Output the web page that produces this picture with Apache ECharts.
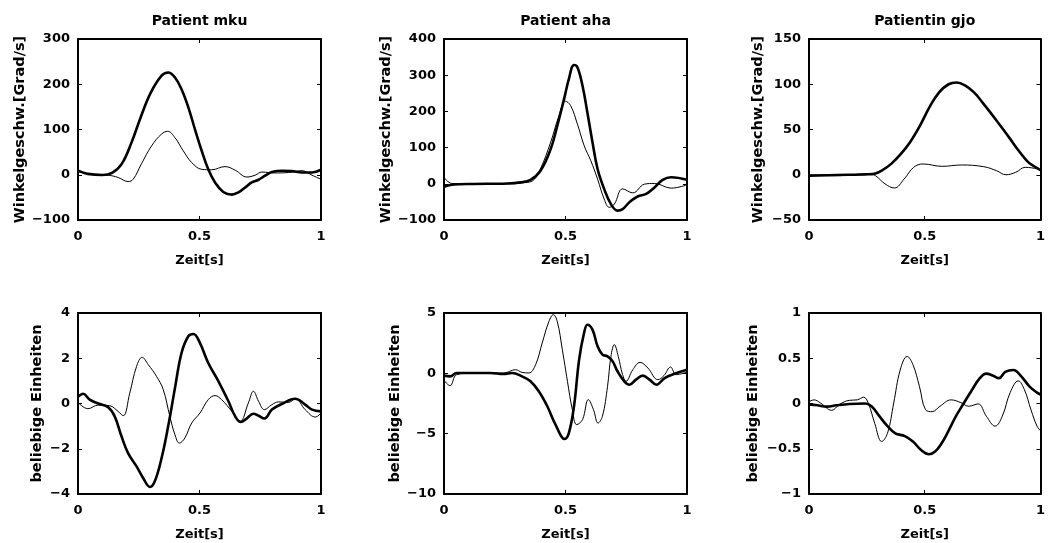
<!DOCTYPE html>
<html>
<head>
<meta charset="utf-8">
<script src="https://cdn.jsdelivr.net/npm/echarts@6/dist/echarts.min.js"></script>
<style>
  html, body { margin: 0; padding: 0; background: #fff; }
  #chart { width: 1048px; height: 543px; }
</style>
</head>
<body>
<div id="chart"></div>
<script>
// Titles and axis texts
const panelTitles = ['Patient mku', 'Patient aha', 'Patientin gjo'];
const xAxisName = 'Zeit[s]';
const velAxisName = 'Winkelgeschw.[Grad/s]';
const arbAxisName = 'beliebige Einheiten';

// Axis ranges [min, max, interval] for the six panels
const xRange = [0, 1, 0.5];
const velRanges = [[-100, 300, 100], [-100, 400, 100], [-50, 150, 50]];
const arbRanges = [[-4, 4, 2], [-10, 5, 5], [-1, 1, 0.5]];

// Angular velocity, [time s, deg/s]
const velMkuBold = [[0,9],[0.04,2],[0.1,-0.5],[0.14,4],[0.18,24],[0.22,71],[0.26,130],[0.30,182],[0.344,219],[0.371,226],[0.399,215],[0.426,189],[0.454,149],[0.481,101],[0.509,53],[0.536,12],[0.564,-17],[0.598,-38],[0.633,-44],[0.66,-39],[0.688,-28],[0.715,-17],[0.743,-11],[0.77,-2],[0.798,6],[0.84,9],[0.88,8],[0.922,5],[0.963,5],[1,11]];
const velMkuThin = [[0,7],[0.055,1],[0.124,-1],[0.165,-6],[0.206,-15],[0.227,-10],[0.261,24],[0.303,64],[0.344,90],[0.369,96],[0.399,82],[0.433,53],[0.468,27],[0.509,12],[0.55,11],[0.605,18],[0.647,10],[0.695,-5],[0.729,-1],[0.757,6],[0.81,4],[0.867,5],[0.922,9],[0.963,-1],[1,-10]];
const velAhaBold = [[0,-8],[0.039,-2],[0.121,-0.5],[0.26,1],[0.314,4],[0.356,11],[0.397,36],[0.439,96],[0.466,160],[0.494,234],[0.514,290],[0.535,328],[0.549,322],[0.57,271],[0.59,197],[0.611,115],[0.632,41],[0.659,-14],[0.687,-56],[0.714,-74],[0.735,-70],[0.763,-51],[0.797,-35],[0.832,-28],[0.866,-10],[0.9,11],[0.935,18],[1,11]];
const velAhaThin = [[0,18],[0.032,1],[0.121,-0.5],[0.26,0],[0.342,4],[0.37,11],[0.397,41],[0.439,115],[0.473,188],[0.5,228],[0.521,216],[0.549,165],[0.577,105],[0.604,64],[0.632,13],[0.659,-42],[0.68,-65],[0.701,-56],[0.735,-14],[0.777,-25],[0.825,-1],[0.866,1],[0.935,-12],[1,-3]];
const velGjoBold = [[0,-1],[0.121,-0.3],[0.259,0.5],[0.287,1.5],[0.314,4.5],[0.355,12],[0.397,23],[0.438,36.5],[0.479,54],[0.52,74.5],[0.562,91],[0.603,100],[0.638,102],[0.672,99],[0.713,91],[0.755,78],[0.81,60],[0.865,41],[0.906,26.6],[0.948,13.7],[0.988,7],[1,5]];
const velGjoThin = [[0,-0.3],[0.121,-1],[0.259,1.2],[0.287,-1],[0.328,-10],[0.369,-14.6],[0.411,-4.7],[0.452,8.2],[0.493,11.9],[0.576,9.3],[0.658,10.8],[0.755,8.9],[0.81,4.5],[0.851,0],[0.893,2.7],[0.934,8.2],[0.988,6.4],[1,5]];

// Arbitrary-unit signals, [time s, value]
const arbMkuBold = [[0,0.29],[0.021,0.43],[0.048,0.17],[0.083,0],[0.124,-0.17],[0.151,-0.57],[0.179,-1.45],[0.206,-2.19],[0.241,-2.78],[0.268,-3.29],[0.296,-3.69],[0.316,-3.44],[0.344,-2.41],[0.371,-1.01],[0.399,0.68],[0.426,2.23],[0.454,2.97],[0.475,3.07],[0.502,2.67],[0.536,1.79],[0.578,0.98],[0.619,0.1],[0.647,-0.57],[0.67,-0.82],[0.694,-0.67],[0.722,-0.45],[0.743,-0.54],[0.767,-0.66],[0.798,-0.27],[0.839,-0.02],[0.894,0.21],[0.935,-0.05],[0.963,-0.27],[1,-0.35]];
const arbMkuThin = [[0,0.05],[0.041,-0.23],[0.083,-0.07],[0.131,-0.1],[0.165,-0.35],[0.186,-0.54],[0.213,0.46],[0.241,1.64],[0.264,2.04],[0.289,1.72],[0.323,1.2],[0.351,0.61],[0.378,-0.57],[0.399,-1.38],[0.417,-1.75],[0.44,-1.52],[0.468,-0.86],[0.502,-0.42],[0.536,0.17],[0.564,0.35],[0.591,0.17],[0.633,-0.35],[0.667,-0.79],[0.701,0.02],[0.722,0.54],[0.743,0.1],[0.767,-0.27],[0.798,-0.05],[0.825,0.07],[0.867,0.05],[0.894,0.21],[0.935,-0.27],[0.977,-0.6],[1,-0.42]];
const arbAhaBold = [[0,-0.19],[0.025,-0.25],[0.052,0.03],[0.121,0.03],[0.19,0.03],[0.246,-0.06],[0.28,0.03],[0.321,-0.25],[0.356,-0.66],[0.39,-1.49],[0.425,-2.73],[0.459,-4.25],[0.497,-5.44],[0.514,-4.94],[0.535,-2.73],[0.556,1.13],[0.577,3.4],[0.59,4.03],[0.611,3.62],[0.632,2.24],[0.652,1.55],[0.673,1.41],[0.694,0.99],[0.714,0.17],[0.742,-0.66],[0.763,-0.94],[0.79,-0.52],[0.818,-0.19],[0.846,-0.52],[0.874,-0.94],[0.908,-0.39],[0.949,-0.03],[1,0.3]];
const arbAhaThin = [[0,-0.58],[0.025,-1.02],[0.052,-0.11],[0.121,0.03],[0.246,0.03],[0.294,0.3],[0.321,0.08],[0.349,0.03],[0.377,0.72],[0.404,2.51],[0.432,4.31],[0.45,4.86],[0.466,4.31],[0.487,1.96],[0.508,-0.66],[0.528,-3.0],[0.546,-4.25],[0.57,-3.84],[0.594,-2.18],[0.615,-3.0],[0.634,-4.12],[0.652,-3.56],[0.673,-1.08],[0.687,1.41],[0.701,2.38],[0.717,1.41],[0.735,-0.11],[0.749,-0.66],[0.777,0.3],[0.807,0.91],[0.839,0.44],[0.88,-0.52],[0.905,-0.19],[0.932,0.52],[0.956,-0.11],[1,0.11]];
const arbGjoBold = [[0,-0.01],[0.036,-0.02],[0.077,-0.035],[0.118,-0.02],[0.174,-0.005],[0.242,0],[0.27,-0.03],[0.304,-0.14],[0.339,-0.25],[0.373,-0.33],[0.414,-0.36],[0.449,-0.42],[0.483,-0.51],[0.518,-0.56],[0.545,-0.53],[0.573,-0.44],[0.601,-0.31],[0.635,-0.14],[0.669,0.005],[0.704,0.15],[0.738,0.28],[0.766,0.33],[0.793,0.31],[0.821,0.28],[0.848,0.35],[0.883,0.37],[0.917,0.3],[0.952,0.19],[0.985,0.12],[1,0.1]];
const arbGjoThin = [[0,0.02],[0.022,0.04],[0.05,0.005],[0.098,-0.075],[0.132,-0.01],[0.174,0.035],[0.208,0.04],[0.236,0.07],[0.256,0.005],[0.284,-0.22],[0.314,-0.42],[0.339,-0.33],[0.366,0.005],[0.394,0.37],[0.424,0.52],[0.449,0.43],[0.477,0.19],[0.504,-0.07],[0.532,-0.09],[0.566,-0.03],[0.614,0.04],[0.656,0.01],[0.69,-0.03],[0.731,-0.005],[0.766,-0.14],[0.804,-0.25],[0.835,-0.14],[0.869,0.12],[0.904,0.25],[0.931,0.15],[0.959,-0.07],[0.985,-0.25],[1,-0.3]];

const FONT = 'DejaVu Sans';
const INK = '#000';

// Panel boxes in pixels
const colLeft = [78, 444, 809];
const rowTop = [39, 313];
const boxW = 243, boxH = 181;
const yNameGaps = [[50, 48, 43], [33, 41, 48]];

const panels = [
  { row: 0, col: 0, range: velRanges[0], name: velAxisName, bold: velMkuBold, thin: velMkuThin },
  { row: 0, col: 1, range: velRanges[1], name: velAxisName, bold: velAhaBold, thin: velAhaThin },
  { row: 0, col: 2, range: velRanges[2], name: velAxisName, bold: velGjoBold, thin: velGjoThin },
  { row: 1, col: 0, range: arbRanges[0], name: arbAxisName, bold: arbMkuBold, thin: arbMkuThin },
  { row: 1, col: 1, range: arbRanges[1], name: arbAxisName, bold: arbAhaBold, thin: arbAhaThin },
  { row: 1, col: 2, range: arbRanges[2], name: arbAxisName, bold: arbGjoBold, thin: arbGjoThin }
];

const minusSign = v => String(v).replace('-', '\u2212');
const lineStyle = { show: true, onZero: false, lineStyle: { color: INK, width: 2 } };
const tickStyle = { show: true, inside: true, length: 4, lineStyle: { color: INK, width: 1 } };
const labelStyle = { color: INK, fontFamily: FONT, fontWeight: 'bold', fontSize: 13 };
const yNameStyle = { color: INK, fontFamily: FONT, fontWeight: 'bold', fontSize: 14.5 };
const xNameStyle = { color: INK, fontFamily: FONT, fontWeight: 'bold', fontSize: 13 };
const titleStyle = { color: INK, fontFamily: FONT, fontWeight: 'bold', fontSize: 14 };

const grid = [], xAxis = [], yAxis = [], series = [];

panels.forEach((p, i) => {
  grid.push({ left: colLeft[p.col], top: rowTop[p.row], width: boxW, height: boxH, containLabel: false });
  const base = { gridIndex: i, type: 'value', min: xRange[0], max: xRange[1], interval: xRange[2],
    axisLine: lineStyle, axisTick: tickStyle, splitLine: { show: false } };
  xAxis.push(Object.assign({}, base, {
    position: 'bottom', name: xAxisName, nameLocation: 'middle', nameGap: 34, nameTextStyle: xNameStyle,
    axisLabel: Object.assign({ margin: 10, formatter: minusSign }, labelStyle)
  }));
  xAxis.push(Object.assign({}, base, {
    position: 'top', axisLabel: { show: false },
    name: p.row === 0 ? panelTitles[p.col] : '', nameLocation: 'middle', nameGap: 11, nameTextStyle: titleStyle
  }));
  const ybase = { gridIndex: i, type: 'value', min: p.range[0], max: p.range[1], interval: p.range[2],
    axisLine: lineStyle, axisTick: tickStyle, splitLine: { show: false } };
  yAxis.push(Object.assign({}, ybase, {
    position: 'left', name: p.name, nameLocation: 'middle', nameGap: yNameGaps[p.row][p.col], nameTextStyle: yNameStyle,
    axisLabel: Object.assign({ margin: 8, formatter: minusSign }, labelStyle)
  }));
  yAxis.push(Object.assign({}, ybase, { position: 'right', axisLabel: { show: false } }));

  const xi = i * 2, yi = i * 2;
  series.push({ type: 'line', xAxisIndex: xi, yAxisIndex: yi, data: p.thin, smooth: 0.4,
    showSymbol: false, symbol: 'none', lineStyle: { color: INK, width: 1 }, z: 2, animation: false });
  series.push({ type: 'line', xAxisIndex: xi, yAxisIndex: yi, data: p.bold, smooth: 0.4,
    showSymbol: false, symbol: 'none', lineStyle: { color: INK, width: 2.6 }, z: 3, animation: false });
});

const chart = echarts.init(document.getElementById('chart'), null, { renderer: 'canvas' });
chart.setOption({ backgroundColor: '#fff', animation: false, grid, xAxis, yAxis, series });
</script>
</body>
</html>
